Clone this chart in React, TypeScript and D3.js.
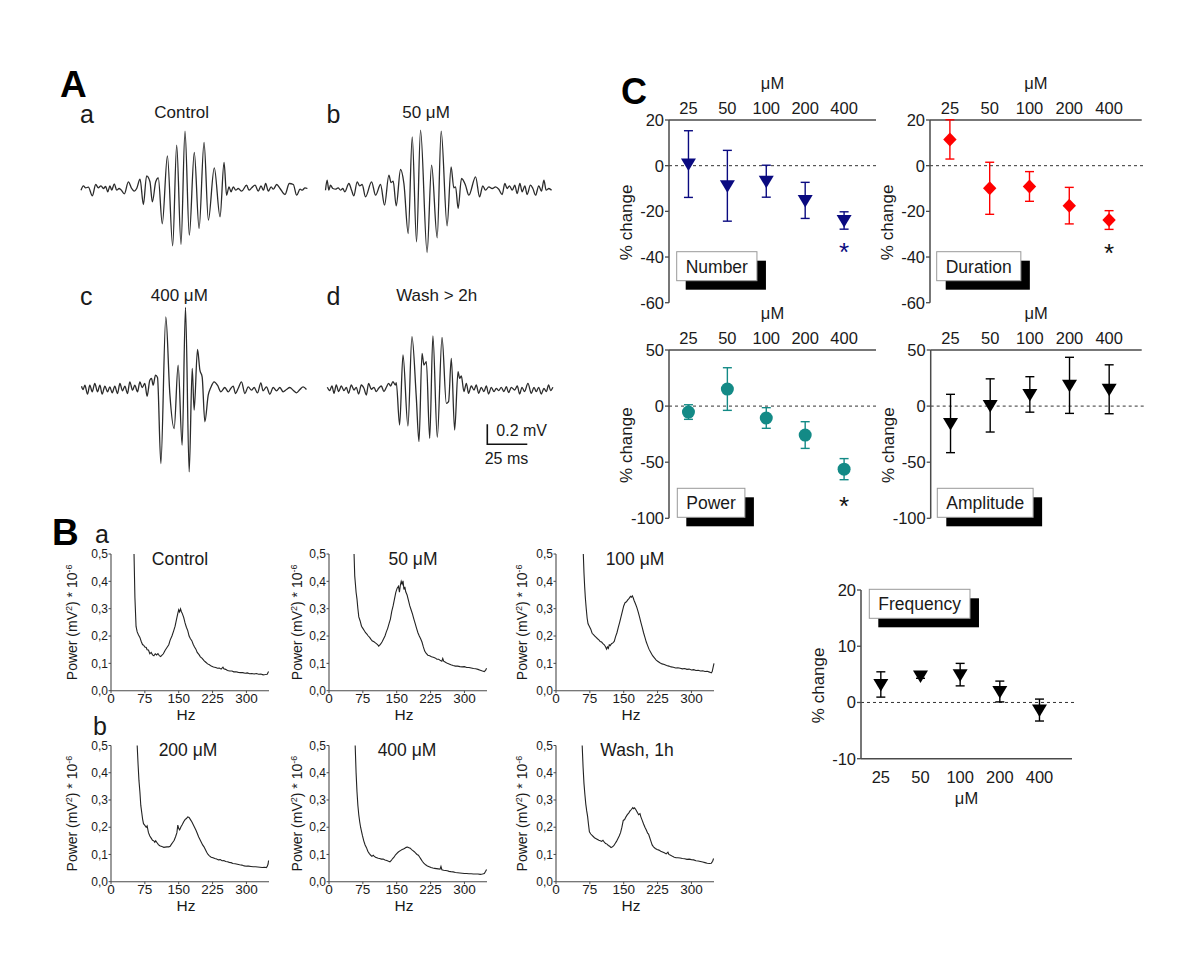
import React, { useEffect } from 'react';
import * as d3 from 'd3';

const FONT = "'Liberation Sans', Arial, Helvetica, sans-serif";

// ---------- Panel A: field potential traces [time ms, mV] ----------
const traceControl: [number, number][] = [
  [0, -0.017], [1.5, 0.027], [2.9, 0.007], [4.6, 0.013], [7.1, -0.073], [9.2, 0.04], [10.8, 0.007], [12.5, 0.027],
  [14.0, 0], [15.4, 0.02], [16.7, -0.033], [18.1, 0.027], [19.2, -0.017], [20.8, 0.047], [22.3, -0.017], [23.8, 0],
  [25.0, -0.013], [27.1, -0.053], [29.6, 0.067], [31.7, 0], [33.3, -0.027], [34.8, 0], [36.9, 0.093], [39.0, -0.16],
  [41.0, 0.127], [43.1, 0.067], [44.6, -0.133], [46.7, 0.067], [48.3, 0.107], [50.8, -0.353], [54.0, 0.327],
  [57.3, -0.573], [59.8, 0.433], [62.5, -0.56], [65.0, 0.573], [67.7, -0.467], [70.8, 0.36], [73.8, -0.4],
  [76.9, 0.46], [79.6, -0.317], [83.3, 0.207], [86.9, -0.283], [89.4, 0.26], [91.0, -0.067], [92.5, 0.017],
  [93.8, -0.033], [95.2, 0.017], [96.7, -0.017], [98.3, 0], [100.4, -0.027], [103.5, 0.033], [105, -0.017],
  [106.7, 0.007], [108.8, 0.033], [110.8, -0.027], [112.5, 0.027], [114, -0.017], [115.4, 0.05], [117.1, -0.027],
  [118.8, 0.017], [120.2, -0.007], [122.3, 0.04], [124.4, 0], [127.5, -0.06], [130.2, 0.05], [132.7, 0.04],
  [134.8, -0.067], [136.9, -0.007], [138.3, -0.017], [140, 0.007], [141.5, 0],
];
const trace50: [number, number][] = [
  [0, -0.017], [1.0, 0.083], [2.1, -0.017], [3.1, 0.033], [4.6, 0], [6.3, -0.007], [7.9, 0.007], [9.4, -0.017],
  [10.8, 0], [12.1, -0.033], [14.6, 0.05], [16.3, -0.017], [17.7, -0.073], [19.8, 0.067], [21.3, 0.027],
  [22.9, 0.04], [25.0, -0.083], [28.8, 0.067], [31.3, -0.067], [34.4, 0.04], [36.9, -0.167], [39.6, 0.133],
  [41.0, 0.06], [42.3, 0.073], [44.2, -0.173], [46.9, 0.19], [49.0, 0.05], [51.7, -0.45], [54.2, 0.517],
  [56.9, -0.533], [59.4, 0.583], [63.5, -0.64], [66.3, 0.233], [69.8, -0.493], [72.3, 0.573], [76.0, -0.373],
  [78.5, 0.217], [80.2, 0.007], [81.3, 0.017], [82.9, -0.2], [85.0, 0.1], [87.5, 0.033], [89.6, -0.067],
  [93.8, 0.117], [96.3, -0.083], [98.3, 0.027], [100, -0.017], [102.1, 0.017], [104.2, 0], [106.3, 0.017],
  [108.3, -0.007], [110.4, -0.06], [112.1, 0.05], [113.5, 0], [115, 0.027], [116.7, -0.017], [118.3, 0.033],
  [119.8, -0.05], [121.5, 0.05], [122.9, -0.033], [124.6, 0.027], [126, -0.06], [128.1, 0.033], [129.6, 0],
  [131.3, -0.067], [133.3, 0.027], [135, -0.027], [136.5, 0.083], [137.9, -0.017], [139.6, 0], [141.3, -0.017],
];
const trace400: [number, number][] = [
  [0, 0.023], [1.0, -0.01], [2.1, 0.033], [3.75, -0.057], [5.2, 0.033], [6.7, -0.033], [8.3, 0.05], [10, -0.033],
  [11.5, 0.033], [12.9, -0.057], [14.6, 0.023], [16.3, -0.033], [17.7, 0.017], [19.2, -0.043], [20.8, 0.023],
  [22.5, -0.05], [24.0, 0.05], [25.6, -0.023], [27.1, 0.023], [28.75, -0.05], [30.2, 0.067], [31.9, -0.017],
  [33.3, 0.033], [35, -0.033], [36.5, 0.067], [37.9, 0.01], [39.6, 0.05], [41.0, -0.077], [42.7, 0.083],
  [43.75, 0.1], [44.8, 0.033], [46.25, 0.133], [47.5, 0.11], [49.6, -0.75], [52.7, 0.717], [55.2, -0.05],
  [57.9, -0.4], [60.4, 0.233], [62.9, -0.567], [65, 0.81], [67.3, -0.833], [69.2, 0.2], [70.4, -0.217],
  [72.5, 0.39], [74, 0.183], [75.4, 0.117], [77.1, -0.333], [79.2, -0.067], [80.8, 0.01], [82.9, 0.067],
  [85, 0.033], [87.1, -0.033], [89.6, 0.01], [91.7, -0.033], [93.3, 0], [94.8, 0.023], [96.25, -0.05],
  [97.9, 0], [100, 0.067], [102.1, -0.05], [104.2, 0.017], [106.25, -0.017], [107.9, 0.01], [110, -0.043],
  [112.1, 0.057], [113.5, -0.023], [115.6, 0.017], [117.7, -0.057], [119.8, 0.01], [121.9, -0.023], [124, 0.01],
  [126, -0.033], [128.1, -0.01], [130.2, 0.01], [132.3, -0.017], [134.4, -0.043], [136.5, -0.01], [138.5, 0.017],
  [140.6, -0.01],
];
const traceWash: [number, number][] = [
  [0, 0.02], [1.5, -0.013], [2.9, 0.033], [4.2, -0.04], [5.6, 0.043], [7.1, -0.023], [8.75, 0.033], [10.4, -0.013],
  [11.9, 0.02], [13.3, -0.04], [15, 0.043], [16.7, -0.007], [18.1, 0.02], [19.6, -0.047], [21.25, 0.043],
  [22.9, 0.01], [24.4, -0.057], [25.8, 0.06], [27.5, 0], [29.2, 0.02], [30.6, -0.023], [32.1, 0.01], [33.75, 0.033],
  [35.4, -0.023], [36.9, 0.02], [38.3, 0.06], [39.6, 0.033], [41.0, 0.077], [42.5, 0.043], [43.1, 0.067],
  [45.2, -0.357], [47.3, 0.343], [50.4, -0.367], [52.9, 0.527], [55.6, -0.073], [57.3, -0.523], [59.2, 0.36],
  [60.4, 0.243], [61.9, 0.277], [64, -0.49], [66, 0.533], [68.75, -0.48], [71.7, 0.52], [74.4, -0.14],
  [75.8, -0.123], [77.5, 0.31], [79.6, -0.407], [81.7, 0.177], [82.7, 0.11], [83.75, 0.133], [85.4, -0.023],
  [86.9, 0.06], [88.3, -0.04], [90, 0.033], [91.7, -0.007], [93.1, 0.043], [94.6, -0.04], [96.25, 0.02],
  [97.9, -0.023], [99.4, 0.033], [100.8, -0.047], [102.5, 0.02], [104.2, -0.023], [105.6, 0.01], [107.1, -0.013],
  [108.75, 0.02], [110.4, -0.023], [111.9, 0.027], [113.3, -0.033], [115, 0.02], [117.1, -0.007], [118.75, 0.033],
  [120.2, -0.047], [121.7, 0.02], [123.3, -0.023], [125.4, 0.06], [127.5, -0.04], [129.2, 0.02], [130.6, -0.023],
  [132.1, 0.02], [133.75, -0.047], [135.4, 0.01], [136.9, -0.023], [138.3, 0.043], [139.6, -0.013], [141, 0.02],
];

// ---------- Panel B: power spectra [Hz, power (mV^2 * 1e-6)] ----------
const specControl: [number, number][] = [
  [51, 0.5], [53, 0.34], [55.5, 0.235], [58, 0.215], [61, 0.204], [64, 0.195], [67, 0.18], [70, 0.168], [72, 0.167],
  [75, 0.16], [78, 0.158], [80, 0.15], [83, 0.149], [86, 0.135], [89, 0.14], [92, 0.131], [95, 0.128], [98, 0.135],
  [101, 0.131], [104, 0.136], [107, 0.128], [110, 0.125], [113, 0.13], [116, 0.135], [120, 0.148], [124, 0.158],
  [128, 0.168], [131, 0.185], [135, 0.2], [139, 0.22], [142, 0.236], [145, 0.26], [148, 0.283], [150, 0.296],
  [152, 0.288], [154, 0.299], [156, 0.289], [158, 0.282], [161, 0.268], [164, 0.248], [167, 0.232], [170, 0.22],
  [173, 0.2], [176, 0.19], [179, 0.183], [182, 0.17], [185, 0.16], [188, 0.152], [191, 0.14], [195, 0.132],
  [198, 0.124], [202, 0.118], [206, 0.11], [210, 0.104], [214, 0.098], [218, 0.095], [222, 0.09], [227, 0.087],
  [232, 0.085], [236, 0.082], [240, 0.083], [244, 0.079], [248, 0.086], [250, 0.08], [254, 0.078], [258, 0.074],
  [263, 0.072], [268, 0.072], [272, 0.069], [277, 0.069], [282, 0.067], [287, 0.066], [292, 0.066], [297, 0.064],
  [302, 0.065], [307, 0.062], [312, 0.063], [317, 0.061], [322, 0.063], [327, 0.06], [332, 0.061], [337, 0.058],
  [342, 0.059], [346, 0.06], [349, 0.07],
];
const spec50: [number, number][] = [
  [55.5, 0.5], [57, 0.42], [58.5, 0.39], [60, 0.36], [62, 0.335], [64, 0.3], [66, 0.27], [69, 0.255], [72, 0.236],
  [75, 0.228], [78, 0.22], [81, 0.212], [84, 0.207], [87, 0.2], [90, 0.195], [93, 0.188], [96, 0.182], [99, 0.18],
  [102, 0.176], [105, 0.172], [108, 0.168], [110, 0.163], [112, 0.166], [115, 0.172], [118, 0.18], [121, 0.19],
  [124, 0.2], [127, 0.215], [130, 0.228], [133, 0.245], [136, 0.262], [139, 0.29], [142, 0.31], [145, 0.335],
  [148, 0.36], [151, 0.375], [154, 0.382], [156, 0.36], [158, 0.385], [160, 0.4], [162, 0.39], [164, 0.402],
  [166, 0.37], [168, 0.38], [170, 0.362], [173, 0.35], [176, 0.33], [179, 0.31], [182, 0.295], [185, 0.28],
  [188, 0.262], [191, 0.245], [194, 0.228], [197, 0.212], [200, 0.2], [203, 0.19], [206, 0.178], [209, 0.16],
  [212, 0.145], [215, 0.137], [219, 0.13], [223, 0.128], [227, 0.124], [231, 0.122], [235, 0.12], [239, 0.115],
  [243, 0.115], [247, 0.11], [250, 0.108], [252, 0.118], [254, 0.108], [258, 0.104], [262, 0.1], [266, 0.098],
  [270, 0.095], [275, 0.092], [280, 0.09], [285, 0.09], [290, 0.088], [295, 0.087], [300, 0.088], [305, 0.085],
  [310, 0.085], [315, 0.083], [320, 0.081], [325, 0.08], [330, 0.078], [335, 0.075], [340, 0.072], [344, 0.07],
  [347, 0.075], [349, 0.082],
];
const spec100: [number, number][] = [
  [60.5, 0.5], [62, 0.43], [63.5, 0.38], [65, 0.34], [67, 0.3], [69, 0.265], [71, 0.245], [74, 0.235], [77, 0.225],
  [80, 0.21], [83, 0.205], [86, 0.2], [89, 0.195], [92, 0.19], [95, 0.186], [98, 0.18], [101, 0.178], [104, 0.172],
  [107, 0.168], [110, 0.16], [112, 0.152], [114, 0.16], [116, 0.155], [118, 0.168], [120, 0.165], [123, 0.172],
  [126, 0.175], [129, 0.18], [132, 0.198], [135, 0.212], [138, 0.232], [141, 0.25], [144, 0.27], [147, 0.29],
  [150, 0.31], [153, 0.322], [156, 0.325], [159, 0.332], [162, 0.338], [165, 0.345], [167, 0.342], [169, 0.347],
  [171, 0.34], [173, 0.33], [176, 0.318], [179, 0.305], [182, 0.288], [185, 0.27], [188, 0.25], [191, 0.232],
  [194, 0.212], [197, 0.195], [200, 0.178], [203, 0.165], [206, 0.152], [210, 0.14], [214, 0.128], [218, 0.12],
  [222, 0.112], [226, 0.107], [230, 0.102], [235, 0.098], [240, 0.096], [245, 0.092], [250, 0.09], [255, 0.087],
  [260, 0.086], [265, 0.083], [270, 0.084], [275, 0.082], [280, 0.08], [285, 0.081], [290, 0.078], [295, 0.079],
  [300, 0.076], [305, 0.077], [310, 0.074], [315, 0.075], [320, 0.072], [325, 0.073], [330, 0.07], [335, 0.071],
  [340, 0.068], [344, 0.065], [346, 0.07], [348, 0.085], [350, 0.1],
];
const spec200: [number, number][] = [
  [58, 0.5], [60, 0.43], [62, 0.37], [64, 0.33], [66, 0.28], [68, 0.255], [70, 0.23], [72, 0.213], [75, 0.207],
  [78, 0.2], [80, 0.205], [83, 0.18], [86, 0.168], [89, 0.16], [92, 0.152], [95, 0.15], [97, 0.145], [99, 0.15],
  [102, 0.143], [105, 0.136], [108, 0.132], [111, 0.13], [114, 0.128], [117, 0.126], [120, 0.127], [124, 0.128],
  [128, 0.128], [131, 0.13], [134, 0.138], [137, 0.145], [140, 0.152], [143, 0.165], [146, 0.18], [148, 0.208],
  [150, 0.195], [152, 0.19], [155, 0.202], [158, 0.21], [161, 0.22], [164, 0.228], [167, 0.232], [170, 0.238],
  [173, 0.236], [176, 0.228], [179, 0.22], [182, 0.21], [185, 0.2], [188, 0.19], [191, 0.178], [194, 0.165],
  [197, 0.155], [200, 0.145], [203, 0.135], [206, 0.128], [209, 0.118], [212, 0.108], [215, 0.1], [218, 0.095],
  [222, 0.09], [226, 0.088], [230, 0.085], [234, 0.083], [238, 0.08], [242, 0.081], [246, 0.077], [250, 0.078],
  [254, 0.074], [258, 0.073], [262, 0.071], [266, 0.07], [270, 0.067], [275, 0.066], [280, 0.064], [285, 0.062],
  [290, 0.061], [295, 0.058], [300, 0.057], [305, 0.057], [310, 0.056], [315, 0.055], [320, 0.055], [325, 0.054],
  [330, 0.053], [335, 0.052], [340, 0.053], [344, 0.052], [346, 0.056], [348, 0.065], [349, 0.078],
];
const spec400: [number, number][] = [
  [58, 0.5], [60, 0.4], [62, 0.33], [64, 0.28], [66, 0.245], [68, 0.22], [70, 0.2], [72, 0.185], [74, 0.17],
  [77, 0.15], [80, 0.135], [83, 0.125], [86, 0.112], [89, 0.104], [92, 0.098], [95, 0.093], [98, 0.097],
  [100, 0.094], [103, 0.09], [106, 0.088], [109, 0.086], [112, 0.085], [116, 0.083], [120, 0.083], [124, 0.08],
  [128, 0.078], [132, 0.075], [135, 0.073], [138, 0.078], [141, 0.085], [144, 0.09], [147, 0.098], [150, 0.103],
  [153, 0.108], [156, 0.112], [159, 0.115], [162, 0.118], [165, 0.12], [168, 0.123], [171, 0.126], [174, 0.127],
  [177, 0.125], [180, 0.123], [183, 0.118], [186, 0.114], [189, 0.11], [192, 0.105], [195, 0.1], [198, 0.097],
  [201, 0.09], [204, 0.082], [207, 0.074], [210, 0.068], [214, 0.062], [218, 0.058], [222, 0.055], [226, 0.052],
  [230, 0.05], [234, 0.049], [238, 0.048], [242, 0.047], [246, 0.046], [248, 0.056], [250, 0.044], [254, 0.042],
  [258, 0.041], [262, 0.04], [266, 0.038], [270, 0.037], [275, 0.036], [280, 0.034], [285, 0.033], [290, 0.032],
  [295, 0.031], [300, 0.03], [305, 0.03], [310, 0.029], [315, 0.029], [320, 0.028], [325, 0.028], [330, 0.028],
  [335, 0.027], [340, 0.028], [344, 0.03], [347, 0.038], [349, 0.045],
];
const specWash: [number, number][] = [
  [58, 0.5], [60, 0.42], [62, 0.36], [64, 0.32], [66, 0.285], [68, 0.26], [70, 0.24], [72, 0.21], [74, 0.183],
  [77, 0.175], [80, 0.17], [83, 0.165], [86, 0.16], [89, 0.158], [92, 0.155], [95, 0.152], [98, 0.15],
  [101, 0.148], [104, 0.152], [107, 0.145], [110, 0.14], [113, 0.138], [116, 0.133], [119, 0.13], [122, 0.125],
  [125, 0.128], [128, 0.132], [131, 0.14], [134, 0.148], [137, 0.158], [140, 0.168], [143, 0.18], [146, 0.2],
  [149, 0.225], [152, 0.228], [155, 0.238], [158, 0.246], [161, 0.252], [164, 0.26], [167, 0.265], [170, 0.272],
  [172, 0.268], [174, 0.271], [177, 0.264], [180, 0.255], [183, 0.246], [186, 0.25], [188, 0.238], [191, 0.225],
  [194, 0.212], [197, 0.2], [200, 0.19], [203, 0.178], [205, 0.175], [207, 0.165], [210, 0.15], [213, 0.135],
  [216, 0.128], [220, 0.122], [224, 0.118], [228, 0.116], [232, 0.112], [236, 0.109], [240, 0.106], [244, 0.102],
  [248, 0.108], [250, 0.1], [254, 0.097], [258, 0.093], [262, 0.09], [266, 0.088], [270, 0.088], [275, 0.087],
  [280, 0.085], [285, 0.084], [290, 0.082], [295, 0.083], [300, 0.081], [305, 0.08], [310, 0.077], [315, 0.076],
  [320, 0.074], [325, 0.072], [330, 0.07], [335, 0.068], [340, 0.067], [344, 0.068], [347, 0.075], [349, 0.085],
];
const spectrumYTicks = [0, 0.1, 0.2, 0.3, 0.4, 0.5];
const spectrumXTicks = [0, 75, 150, 225, 300];

// ---------- Panel C: % change vs concentration ----------
const concentrations = ['25', '50', '100', '200', '400'];
const numberMean = [0.7, -8.8, -6.8, -15.2, -24];
const numberSem = [14.6, 15.5, 7.0, 7.9, 3.8];
const durationMean = [11.5, -9.9, -9.1, -17.5, -23.8];
const durationSem = [8.6, 11.4, 6.5, 8.0, 4.1];
const powerMean = [-5.3, 15.2, -10.6, -25.8, -56.2];
const powerSem = [6.5, 19, 9.2, 11.9, 9.4];
const amplitudeMean = [-15.5, 0.6, 10.4, 18.5, 15];
const amplitudeSem = [26, 23.7, 15.8, 25, 21.8];
const frequencyMean = [3.2, 4.7, 4.95, 1.95, -1.35];
const frequencySem = [2.25, 0.4, 2.0, 1.85, 1.95];
const ticksNumber = [-60, -40, -20, 0, 20];
const ticksPower = [-100, -50, 0, 50];
const ticksFrequency = [-10, 0, 10, 20];

const INK = '#1a1a1a';
const AXIS = '#4a4a4a';
const MU = '\u03BC';

function textWidth(text: string, size: number) {
  const ctx = document.createElement('canvas').getContext('2d');
  if (!ctx) return text.length * size * 0.55;
  ctx.font = `${size}px ${FONT}`;
  return ctx.measureText(text).width;
}

function Trace({ data, x0, y0 }: { data: [number, number][]; x0: number; y0: number }) {
  const x = d3.scaleLinear().domain([0, 25]).range([x0, x0 + 40]);
  const y = d3.scaleLinear().domain([0, 0.2]).range([y0, y0 - 20]);
  const line = d3.line<[number, number]>().x(d => x(d[0])).y(d => y(d[1])).curve(d3.curveMonotoneX);
  return <path d={line(data) || ''} fill="none" stroke="#2b2b2b" strokeWidth={1.3} />;
}

function Spectrum({ data, left, yTop, yBot, title, titleX, labelX }: {
  data: [number, number][]; left: number; yTop: number; yBot: number; title: string; titleX: number; labelX: number;
}) {
  const x = d3.scaleLinear().domain([0, 350]).range([left, left + 158]);
  const y = d3.scaleLinear().domain([0, 0.5]).range([yBot, yTop]);
  const line = d3.line<[number, number]>().x(d => x(d[0])).y(d => y(d[1]));
  const fmt = (v: number) => d3.format('.1f')(v).replace('.', ',');
  const midY = (yTop + yBot) / 2;
  return (
    <g>
      <line x1={left} x2={left} y1={yTop} y2={yBot} stroke={AXIS} strokeWidth={1.1} />
      <line x1={left} x2={x(350)} y1={yBot} y2={yBot} stroke={AXIS} strokeWidth={1.1} />
      {spectrumYTicks.map(t => (
        <g key={t}>
          <line x1={left - 2.5} x2={left} y1={y(t)} y2={y(t)} stroke={AXIS} strokeWidth={1} />
          <text x={left - 3} y={y(t)} dy="0.35em" textAnchor="end" fontSize={12} fill={INK}>{fmt(t)}</text>
        </g>
      ))}
      {spectrumXTicks.map(t => (
        <g key={t}>
          <line x1={x(t)} x2={x(t)} y1={yBot} y2={yBot + 2.5} stroke={AXIS} strokeWidth={1} />
          <text x={x(t)} y={yBot + 12} textAnchor="middle" fontSize={13.5} fill={INK}>{t}</text>
        </g>
      ))}
      <text x={left + 75} y={yBot + 29} textAnchor="middle" fontSize={15.5} fill={INK}>Hz</text>
      <path d={line(data) || ''} fill="none" stroke="#222" strokeWidth={1.1} />
      <text x={titleX} y={yTop + 10.5} textAnchor="middle" fontSize={17.5} fill={INK}>{title}</text>
      <text transform={`translate(${labelX},${midY}) rotate(-90)`} textAnchor="middle" dy="0.35em" fontSize={14} fill={INK}>
        Power (mV<tspan dy="-5" fontSize={9}>2</tspan><tspan dy="5">) * 10</tspan><tspan dy="-5" fontSize={9}>-6</tspan>
      </text>
    </g>
  );
}

type Marker = 'tri' | 'diamond' | 'circle';

function MarkerShape({ kind, cx, cy, color }: { kind: Marker; cx: number; cy: number; color: string }) {
  if (kind === 'circle') return <circle cx={cx} cy={cy} r={6.5} fill={color} />;
  if (kind === 'diamond')
    return <path d={`M${cx},${cy - 7} L${cx + 6.7},${cy} L${cx},${cy + 7} L${cx - 6.7},${cy} Z`} fill={color} />;
  return <path d={`M${cx - 7.5},${cy - 5.5} L${cx + 7.5},${cy - 5.5} L${cx},${cy + 7} Z`} fill={color} />;
}

function DosePlot({ left, width, top, bottom, domain, ticks, axis, mean, sem, marker, color, legend, lx, ly, star }: {
  left: number; width: number; top: number; bottom: number; domain: [number, number]; ticks: number[];
  axis: 'top' | 'bottom'; mean: number[]; sem: number[]; marker: Marker; color: string; legend: string;
  lx: number; ly: number; star?: { color: string; y: number };
}) {
  const x = d3.scaleLinear().domain([-0.5, 4.82]).range([left, left + width]);
  const y = d3.scaleLinear().domain(domain).range([bottom, top]);
  const axisY = axis === 'top' ? top : bottom;
  const labY = axis === 'top' ? top - 6.5 : bottom + 24;
  const muY = axis === 'top' ? top - 31.5 : bottom + 45.5;
  const lw = textWidth(legend, 17.5) + 18;
  const lh = 29;
  return (
    <g>
      <line x1={left} x2={left + width + 3} y1={y(0)} y2={y(0)} stroke="#333" strokeWidth={1} strokeDasharray="3,3" />
      <line x1={left} x2={left} y1={top} y2={bottom} stroke={AXIS} strokeWidth={1.5} />
      <line x1={left} x2={left + width} y1={axisY} y2={axisY} stroke={AXIS} strokeWidth={1.5} />
      {ticks.map(t => (
        <g key={t}>
          <line x1={left - 4} x2={left} y1={y(t)} y2={y(t)} stroke={AXIS} strokeWidth={1.3} />
          <text x={left - 5} y={y(t)} dy="0.36em" textAnchor="end" fontSize={16.5} fill={INK}>{t}</text>
        </g>
      ))}
      {concentrations.map((c, i) => (
        <text key={c} x={x(i)} y={labY} textAnchor="middle" fontSize={16.5} fill={INK}>{c}</text>
      ))}
      <text x={left + width / 2} y={muY} textAnchor="middle" fontSize={16.5} fill={INK}>{MU}M</text>
      <text transform={`translate(${left - 43},${(top + bottom) / 2 + 11}) rotate(-90)`} textAnchor="middle" dy="0.35em" fontSize={17} fill={INK}>% change</text>
      {mean.map((m, i) => {
        const cx = x(i);
        const y1 = y(m + sem[i]);
        const y2 = y(m - sem[i]);
        return (
          <g key={i} stroke={color} strokeWidth={1.4}>
            <line x1={cx} x2={cx} y1={y1} y2={y2} />
            <line x1={cx - 4.5} x2={cx + 4.5} y1={y1} y2={y1} />
            <line x1={cx - 4.5} x2={cx + 4.5} y1={y2} y2={y2} />
          </g>
        );
      })}
      {mean.map((m, i) => <MarkerShape key={i} kind={marker} cx={x(i)} cy={y(m)} color={color} />)}
      {star && (
        <text x={x(4)} y={star.y + 15} textAnchor="middle" fontSize={26} fill={star.color}>*</text>
      )}
      <rect x={lx + 9} y={ly + 9} width={lw} height={lh} fill="#000" />
      <rect x={lx} y={ly} width={lw} height={lh} fill="#fff" stroke="#999" strokeWidth={1} />
      <text x={lx + 9} y={ly + 21} fontSize={17.5} fill={INK}>{legend}</text>
    </g>
  );
}

export default function App() {
  useEffect(() => {
    document.body.style.margin = '0';
  }, []);
  return (
    <svg width={1200} height={972} style={{ position: 'absolute', left: 0, top: 0, background: '#fff', fontFamily: FONT }}>
      <rect x={0} y={0} width={1200} height={972} fill="#fff" />
      {/* Panel A */}
      <text x={60} y={96.7} fontSize={37} fontWeight="bold" fill="#000">A</text>
      <text x={80} y={123} fontSize={25} fill={INK}>a</text>
      <text x={326.5} y={123} fontSize={25} fill={INK}>b</text>
      <text x={80} y={305} fontSize={25} fill={INK}>c</text>
      <text x={326.5} y={305} fontSize={25} fill={INK}>d</text>
      <text x={181.7} y={118} textAnchor="middle" fontSize={17} fill={INK}>Control</text>
      <text x={426} y={118} textAnchor="middle" fontSize={17} fill={INK}>50 {MU}M</text>
      <text x={179.3} y={300.5} textAnchor="middle" fontSize={17} fill={INK}>400 {MU}M</text>
      <text x={436.7} y={300.5} textAnchor="middle" fontSize={17} fill={INK}>Wash &gt; 2h</text>
      <Trace data={traceControl} x0={81} y0={188.5} />
      <Trace data={trace50} x0={325.5} y0={188.5} />
      <Trace data={trace400} x0={81.5} y0={388.5} />
      <Trace data={traceWash} x0={327.3} y0={389.3} />
      {(() => {
        const x = d3.scaleLinear().domain([0, 25]).range([327.3, 367.3]);
        const y = d3.scaleLinear().domain([0, 0.2]).range([389.3, 369.3]);
        return (
          <g>
            <path d={`M${x(100)},${y(-0.35)} L${x(100)},${y(-0.55)} L${x(125)},${y(-0.55)}`} fill="none" stroke="#111" strokeWidth={1.6} />
            <text x={x(100) + 9} y={y(-0.35) + 11.5} fontSize={16} fill={INK}>0.2 mV</text>
            <text x={x(112)} y={y(-0.55) + 20} textAnchor="middle" fontSize={16} fill={INK}>25 ms</text>
          </g>
        );
      })()}

      {/* Panel B */}
      <text x={52} y={545} fontSize={37} fontWeight="bold" fill="#000">B</text>
      <text x={95} y={543} fontSize={25} fill={INK}>a</text>
      <text x={93} y={735} fontSize={25} fill={INK}>b</text>
      <Spectrum data={specControl} left={111} yTop={554} yBot={690.7} title="Control" titleX={180} labelX={72} />
      <Spectrum data={spec50} left={329} yTop={554} yBot={690.7} title={`50 ${MU}M`} titleX={413} labelX={297} />
      <Spectrum data={spec100} left={556} yTop={554} yBot={690.7} title={`100 ${MU}M`} titleX={635} labelX={522.5} />
      <Spectrum data={spec200} left={111} yTop={745.5} yBot={881.7} title={`200 ${MU}M`} titleX={188} labelX={72} />
      <Spectrum data={spec400} left={329} yTop={745.5} yBot={881.7} title={`400 ${MU}M`} titleX={407} labelX={297} />
      <Spectrum data={specWash} left={556} yTop={745.5} yBot={881.7} title="Wash, 1h" titleX={637} labelX={522.5} />

      {/* Panel C */}
      <text x={621} y={104} fontSize={36} fontWeight="bold" fill="#000">C</text>
      <DosePlot left={669} width={207} top={120} bottom={302.7} domain={[-60, 20]} ticks={ticksNumber} axis="top"
        mean={numberMean} sem={numberSem} marker="tri" color="#0a0a80" legend="Number" lx={676.7} ly={251.7}
        star={{ color: '#0a0a80', y: 246 }} />
      <DosePlot left={930} width={211.7} top={120} bottom={302.7} domain={[-60, 20]} ticks={ticksNumber} axis="top"
        mean={durationMean} sem={durationSem} marker="diamond" color="#ff0000" legend="Duration" lx={936.7} ly={251.7}
        star={{ color: '#111', y: 246.7 }} />
      <DosePlot left={669} width={207} top={350} bottom={518.3} domain={[-100, 50]} ticks={ticksPower} axis="top"
        mean={powerMean} sem={powerSem} marker="circle" color="#138a86" legend="Power" lx={677.3} ly={488.3}
        star={{ color: '#111', y: 500 }} />
      <DosePlot left={930.7} width={211} top={350} bottom={518.3} domain={[-100, 50]} ticks={ticksPower} axis="top"
        mean={amplitudeMean} sem={amplitudeSem} marker="tri" color="#000" legend="Amplitude" lx={937.3} ly={488.3} />
      <DosePlot left={861} width={211} top={590} bottom={758.7} domain={[-10, 20]} ticks={ticksFrequency} axis="bottom"
        mean={frequencyMean} sem={frequencySem} marker="tri" color="#000" legend="Frequency" lx={869.3} ly={589.3} />
    </svg>
  );
}
